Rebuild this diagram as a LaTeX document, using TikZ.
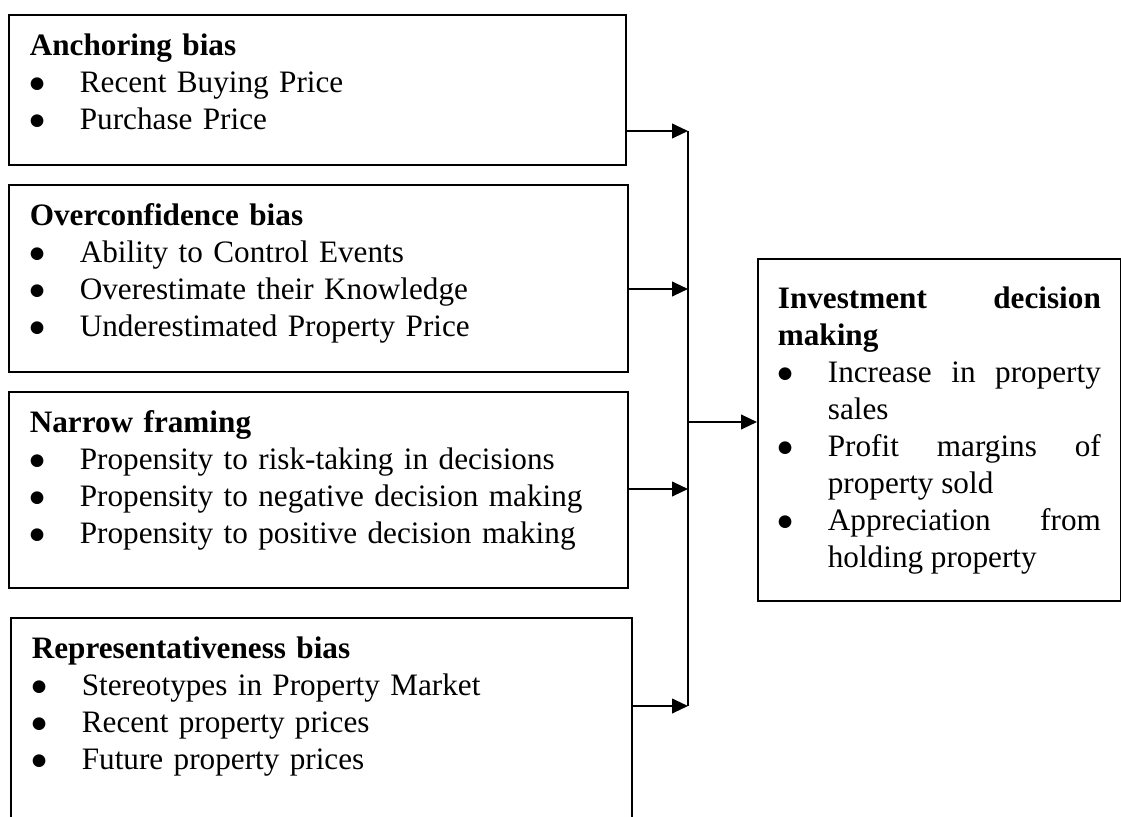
\documentclass[tikz,border=0pt]{standalone}
\usepackage{fontspec}
\setmainfont{Liberation Serif}
\newfontfamily\symfont{DejaVu Sans}
\usetikzlibrary{arrows.meta}
\newcommand{\blt}{\raisebox{3.4pt}{\symfont\fontsize{12.5}{12.5}\selectfont ●}}
\newcommand{\itm}[1]{\par\hangindent=37.5pt\hangafter=1\noindent\makebox[37.5pt][l]{\blt}#1}

\begin{document}
\begin{tikzpicture}[x=0.75pt, y=-0.75pt,
    bias/.style={draw, line width=1.3pt, anchor=north west, inner xsep=15.75pt,
      inner ysep=0pt, align=left, text height=30.75pt,
      font=\fontsize{23.4}{27.75}\selectfont},
    flow/.style={line width=1.5pt, -{Triangle[length=12pt,width=11pt]}}]
  \useasboundingbox (0,0) rectangle (1121,817);

  % biases
  \node[bias, text width=431.25pt, text depth=81.75pt] (anchoring) at (8,14)
    {\textbf{Anchoring bias}\itm{Recent Buying Price}\itm{Purchase Price}\par};
  \node[bias, text width=432.75pt, text depth=109.5pt] (overconf) at (8,184)
    {\textbf{Overconfidence bias}\itm{Ability to Control Events}
     \itm{Overestimate their Knowledge}\itm{Underestimated Property Price}\par};
  \node[bias, text width=432.75pt, text depth=116.25pt] (narrow) at (8,391)
    {\textbf{Narrow framing}\itm{Propensity to risk-taking in decisions}
     \itm{Propensity to negative decision making}\itm{Propensity to positive decision making}\par};
  \node[bias, text width=434.25pt, text depth=156.75pt] (repres) at (10,617)
    {\textbf{Representativeness bias}\itm{Stereotypes in Property Market}
     \itm{Recent property prices}\itm{Future property prices}\par};

  % outcome
  \node[bias, align=justify, inner xsep=15pt, text width=242.25pt,
    text height=37.5pt, text depth=219pt] (invest) at (757,258)
    {\textbf{Investment decision making}\itm{Increase in property sales}
     \itm{Profit margins of property sold}\itm{Appreciation from holding property}\par};

  \coordinate (j1) at (688,131);
  \coordinate (j2) at (688,289);
  \coordinate (j3) at (688,489);
  \coordinate (j4) at (688,706);
  \coordinate (jout) at (688,422);

  \draw[line width=1.5pt] (j1) -- (j4);
  \draw[flow] (anchoring.east |- j1) -- (j1);
  \draw[flow] (overconf.east |- j2) -- (j2);
  \draw[flow] (narrow.east |- j3) -- (j3);
  \draw[flow] (repres.east |- j4) -- (j4);
  \draw[flow] (jout) -- (invest.west |- jout);
\end{tikzpicture}
\end{document}
